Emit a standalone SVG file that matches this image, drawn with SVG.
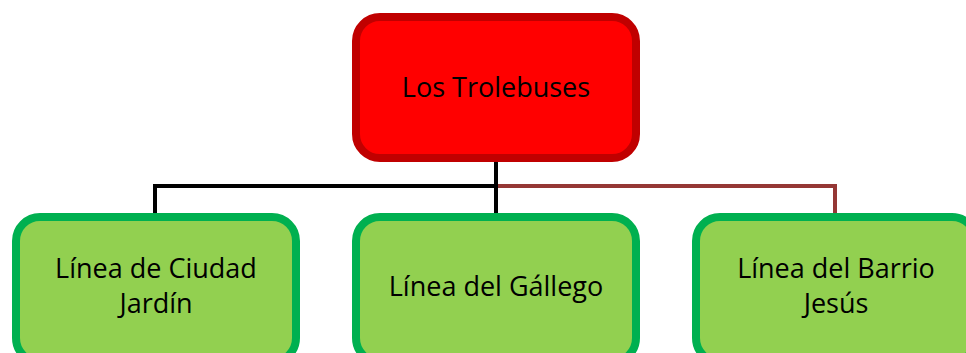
<svg xmlns="http://www.w3.org/2000/svg" width="966" height="353" viewBox="0 0 966 353">
<style>
.top{fill:#FF0000;stroke:#C00000;stroke-width:8}
.leaf{fill:#92D050;stroke:#00B050;stroke-width:8}
.lbl{font-family:"Open Sans","Liberation Sans",sans-serif;font-size:27px;fill:#000;text-anchor:middle}
.blk{fill:none;stroke:#000;stroke-width:4}
.brn{fill:none;stroke:#953735;stroke-width:4}
</style>
<rect width="966" height="353" fill="#fff"/>
<g id="connectors">
<path class="brn" d="M496 186 H835 V217"/>
<path class="blk" d="M155 217 V186 H496"/>
<path class="blk" d="M496 158 V217"/>
</g>
<g id="root">
<rect class="top" x="356" y="17" width="280" height="141" rx="24"/>
<text class="lbl" x="496" y="97">Los Trolebuses</text>
</g>
<g id="n1">
<rect class="leaf" x="16" y="217" width="280" height="145" rx="24"/>
<text class="lbl" x="156" y="278">Línea de Ciudad</text>
<text class="lbl" x="156" y="313">Jardín</text>
</g>
<g id="n2">
<rect class="leaf" x="356" y="217" width="280" height="145" rx="24"/>
<text class="lbl" x="496" y="296">Línea del Gállego</text>
</g>
<g id="n3">
<rect class="leaf" x="696" y="217" width="280" height="145" rx="24"/>
<text class="lbl" x="836" y="278">Línea del Barrio</text>
<text class="lbl" x="836" y="313">Jesús</text>
</g>
</svg>
